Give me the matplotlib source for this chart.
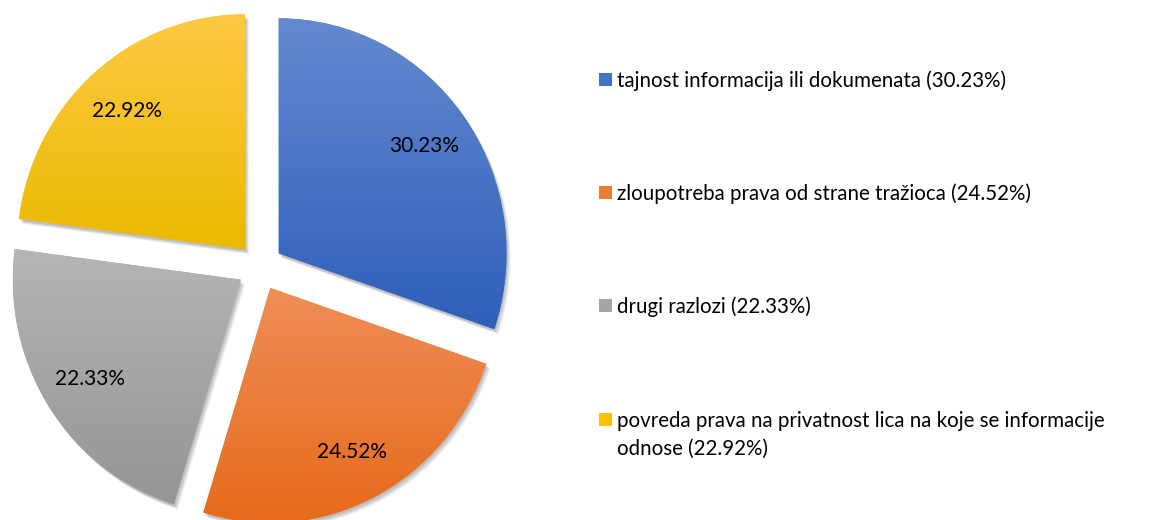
import numpy as np
import matplotlib
matplotlib.use('Agg')
import matplotlib.pyplot as plt
from matplotlib.colors import LinearSegmentedColormap
from matplotlib.patches import Wedge, Rectangle
import matplotlib.transforms as mtransforms

plt.rcParams['font.family'] = ['Lato', 'DejaVu Sans']

# data
categories = ['tajnost informacija ili dokumenata',
              'zloupotreba prava od strane tražioca',
              'drugi razlozi',
              'povreda prava na privatnost lica na koje se informacije\nodnose']
values = [30.23, 24.52, 22.33, 22.92]
top_colors = ['#6489d0', '#f08e58', '#b5b5b5', '#ffc944']
bottom_colors = ['#2f5fba', '#e66a1a', '#959595', '#eab900']
mid_colors = ['#4472c4', '#ed7d31', '#a5a5a5', '#ffc000']

W, H = 1153, 520
fig = plt.figure(figsize=(W / 100, H / 100), dpi=100)
ax = fig.add_axes([0, 0, 520 / W, 1])

wedges, texts, autotexts = ax.pie(values, startangle=90, counterclock=False,
                                  explode=[0.1] * 4, colors=mid_colors,
                                  autopct='%.2f%%', pctdistance=0.785,
                                  textprops={'fontsize': 15, 'color': 'black'})
ax.set_aspect('auto')
ax.axis('off')

# soft drop shadow
for w in wedges:
    for dx, dy in [(1, -2), (2, -3), (3, -4), (4, -5)]:
        off = mtransforms.offset_copy(ax.transData, fig=fig, x=dx, y=dy, units='dots')
        sh = Wedge(w.center, w.r, w.theta1, w.theta2, facecolor='black',
                   edgecolor='none', alpha=0.07, transform=off, zorder=0.5)
        ax.add_patch(sh)
    w.set_zorder(1)

# vertical gradient fill inside each slice
grad = np.linspace(0, 1, 256).reshape(-1, 1)
for w, ct, cb in zip(wedges, top_colors, bottom_colors):
    ext = w.get_path().get_extents()
    cmap = LinearSegmentedColormap.from_list('g', [cb, ct])
    im = ax.imshow(grad, cmap=cmap, origin='lower', aspect='auto',
                   extent=(ext.x0, ext.x1, ext.y0, ext.y1), zorder=2)
    im.set_clip_path(w)
for t in autotexts:
    t.set_zorder(5)
ax.set_xlim(-1.1404, 1.1404)
ax.set_ylim(-1.0766, 1.1362)

# legend on the right
baselines = [87, 200, 313, 427]
for name, v, c, yb in zip(categories, values, mid_colors, baselines):
    parts = name.split('\n')
    label = '\n'.join(parts[:-1] + [parts[-1] + f' ({v:.2f}%)'])
    fig.patches.append(Rectangle((599 / W, 1 - (yb - 1) / H), 13 / W, 13 / H,
                                 transform=fig.transFigure, facecolor=c,
                                 edgecolor='none'))
    for j, line in enumerate(label.split('\n')):
        fig.text(617 / W, 1 - (yb + 28 * j) / H, line, fontsize=14.8,
                 va='baseline', ha='left')

fig.savefig('out.png', dpi=100)
